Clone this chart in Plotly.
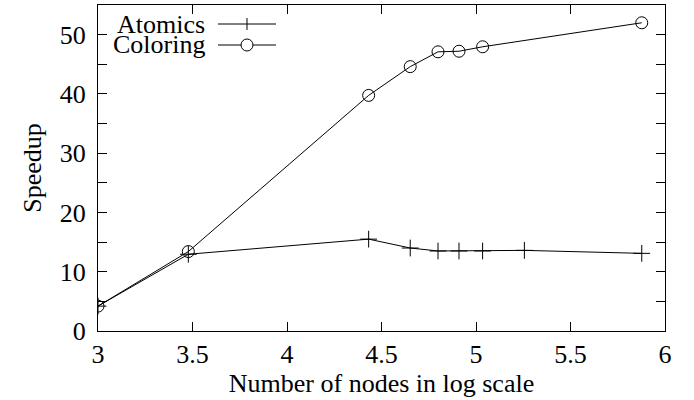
import plotly.graph_objects as go

# Data
atomics_x = [3.0, 3.478, 4.432, 4.652, 4.799, 4.910, 5.035, 5.256, 5.877]
atomics_y = [4.2, 12.95, 15.5, 14.0, 13.5, 13.5, 13.5, 13.6, 13.1]
coloring_x = [3.0, 3.478, 4.432, 4.652, 4.799, 4.910, 5.035, 5.877]
coloring_y = [4.2, 13.4, 39.75, 44.6, 47.1, 47.2, 47.95, 52.0]
series_names = ["Atomics", "Coloring"]
x_ticks = [3, 3.5, 4, 4.5, 5, 5.5, 6]
y_ticks = [0, 10, 20, 30, 40, 50]

FONT = "Liberation Serif"
FS = 26

fig = go.Figure()
fig.add_trace(go.Scatter(x=atomics_x, y=atomics_y, mode="lines+markers", name=series_names[0],
                         line=dict(color="black", width=1),
                         marker=dict(symbol="cross-thin", size=12, line=dict(color="black", width=1)),
                         showlegend=False))
fig.add_trace(go.Scatter(x=coloring_x, y=coloring_y, mode="lines+markers", name=series_names[1],
                         line=dict(color="black", width=1),
                         marker=dict(symbol="circle-open", size=12, color="black", line=dict(color="black", width=1)),
                         showlegend=False))

# Manual gnuplot-style legend (text, then sample) in paper coordinates
W, H = 694, 400
L, R, T, B = 98, 29, 5, 69
pw, ph = W - L - R, H - T - B
def px(xp):
    return (xp - L) / pw
def py(yp):
    return (H - B - yp) / ph

rows = [24, 45]
lx0, lx1, lxm = 218, 276, 247
for yy in rows:
    fig.add_shape(type="line", xref="paper", yref="paper", x0=px(lx0), x1=px(lx1), y0=py(yy), y1=py(yy),
                  line=dict(color="black", width=1))
fig.add_shape(type="line", xref="paper", yref="paper", x0=px(lxm), x1=px(lxm), y0=py(rows[0] - 6), y1=py(rows[0] + 6),
              line=dict(color="black", width=1))
fig.add_shape(type="circle", xref="paper", yref="paper", x0=px(lxm - 6), x1=px(lxm + 6),
              y0=py(rows[1] + 6), y1=py(rows[1] - 6), line=dict(color="black", width=1), fillcolor="white")
for name, yy in zip(series_names, rows):
    fig.add_annotation(x=px(207), y=py(yy), xref="paper", yref="paper", text=name, showarrow=False,
                       xanchor="right", yanchor="middle", font=dict(family=FONT, size=FS, color="black"))

fig.update_layout(
    width=W, height=H,
    margin=dict(l=L, r=R, t=T, b=B, autoexpand=False),
    paper_bgcolor="white", plot_bgcolor="white",
    font=dict(family=FONT, size=FS, color="black"),
    xaxis=dict(range=[3, 6], tickvals=x_ticks, ticktext=[str(v) for v in x_ticks],
               ticks="inside", ticklen=9, tickcolor="black", showline=True, linecolor="black",
               linewidth=1, mirror="ticks", showgrid=False, zeroline=False, automargin=False,
               title=dict(text="Number of nodes in log scale", standoff=2, font=dict(size=FS)),
               tickfont=dict(size=FS)),
    yaxis=dict(range=[0, 55], tickvals=y_ticks, ticks="inside", ticklen=9, tickcolor="black",
               showline=True, linecolor="black", linewidth=1, mirror="ticks", showgrid=False,
               zeroline=False, automargin=False, title=dict(text="Speedup", standoff=10, font=dict(size=FS)),
               tickfont=dict(size=FS), ticklabelstandoff=6,
               minor=dict(tickvals=[5, 15, 25, 35, 45], ticks="inside", ticklen=9, tickcolor="black", showgrid=False)),
)

fig.write_html("out.html", config={"displayModeBar": False},
               post_script="document.body.style.margin='0';document.body.style.overflow='hidden';")
